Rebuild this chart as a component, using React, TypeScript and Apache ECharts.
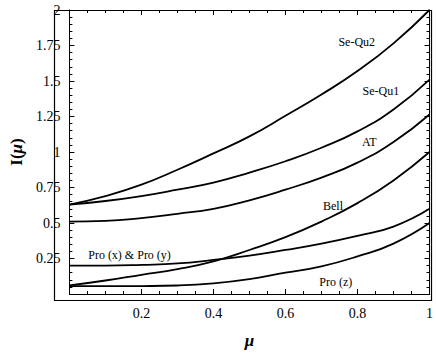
import React, { useEffect, useRef } from "react";
import * as echarts from "echarts";

const mu = [0, 0.1, 0.2, 0.3, 0.4, 0.5, 0.6, 0.7, 0.8, 0.9, 1.0];
const seQu2 = [0.63, 0.69, 0.77, 0.875, 0.99, 1.11, 1.255, 1.405, 1.57, 1.765, 2.0];
const seQu1 = [0.63, 0.655, 0.69, 0.735, 0.785, 0.855, 0.935, 1.03, 1.145, 1.3, 1.51];
const at = [0.51, 0.515, 0.535, 0.565, 0.6, 0.66, 0.735, 0.82, 0.925, 1.07, 1.264];
const bell = [0.06, 0.095, 0.135, 0.175, 0.23, 0.31, 0.4, 0.51, 0.64, 0.8, 1.0];
const proXY = [0.2, 0.2, 0.205, 0.215, 0.24, 0.27, 0.31, 0.355, 0.41, 0.475, 0.6];
const proZ = [0.055, 0.055, 0.056, 0.06, 0.075, 0.105, 0.15, 0.195, 0.265, 0.355, 0.5];

const seriesNames = ["Se-Qu2", "Se-Qu1", "AT", "Bell", "Pro (x) & Pro (y)", "Pro (z)"];
const seriesValues = [seQu2, seQu1, at, bell, proXY, proZ];
const labelPos: [number, number][] = [
  [0.798, 1.772],
  [0.865, 1.428],
  [0.833, 1.069],
  [0.732, 0.621],
  [0.167, 0.276],
  [0.74, 0.083],
];

const FONT = "Liberation Serif";
const GRID = { left: 54, top: 10, right: 5, bottom: 54 };
const W = 436;
const H = 354;

function axisLine() {
  return { show: true, onZero: false, lineStyle: { color: "#000", width: 1 } };
}
function axisTick() {
  return { show: true, inside: true, length: 5, lineStyle: { color: "#000", width: 1 } };
}
function minorTick(n: number) {
  return { show: true, splitNumber: n, length: 3, lineStyle: { color: "#000", width: 1 } };
}
function richText(size: number) {
  return { t: { fontFamily: FONT, fontSize: size, color: "#000" } };
}

export default function App() {
  const ref = useRef<HTMLDivElement>(null);
  useEffect(() => {
    if (!ref.current) return;
    const chart = echarts.init(ref.current, undefined, { renderer: "svg" });
    const lineSeries = seriesNames.map((name, i) => {
      const mirror = i === seriesNames.length - 1;
      return {
        name,
        type: "line",
        xAxisIndex: mirror ? 1 : 0,
        yAxisIndex: mirror ? 1 : 0,
        data: mu.map((m, j) => [m, seriesValues[i][j]]),
        showSymbol: false,
        smooth: 0.5,
        lineStyle: { color: "#000", width: 1.8 },
        markPoint: {
          symbol: "circle",
          symbolSize: 1,
          itemStyle: { color: "rgba(0,0,0,0)" },
          label: {
            show: true,
            position: "inside",
            formatter: "{t|" + name + "}",
            rich: richText(12),
          },
          data: [{ coord: labelPos[i] }],
        },
      };
    });
    chart.setOption({
      animation: false,
      backgroundColor: "#fff",
      grid: GRID,
      graphic: [
        {
          type: "rect",
          z: 100,
          silent: true,
          shape: {
            x: GRID.left + 0.5,
            y: GRID.top + 0.5,
            width: W - GRID.left - GRID.right,
            height: H - GRID.top - GRID.bottom,
          },
          style: { fill: "none", stroke: "#000", lineWidth: 1.2 },
        },
      ],
      xAxis: [
        {
          type: "value",
          min: 0,
          max: 1,
          interval: 0.2,
          axisLine: axisLine(),
          axisTick: axisTick(),
          minorTick: minorTick(4),
          splitLine: { show: false },
          axisLabel: {
            margin: 12,
            formatter: (v: number) => (v === 0 ? "" : "{t|" + Math.round(v * 10) / 10 + "}"),
            rich: richText(14),
          },
          name: "{i|μ}",
          nameLocation: "middle",
          nameGap: 38,
          nameTextStyle: {
            rich: { i: { fontFamily: FONT, fontSize: 17, fontStyle: "italic", fontWeight: "bold", color: "#000" } },
          },
        },
        {
          type: "value",
          position: "top",
          min: 0,
          max: 1,
          interval: 0.2,
          axisLine: axisLine(),
          axisTick: axisTick(),
          minorTick: minorTick(4),
          splitLine: { show: false },
          axisLabel: { show: false },
        },
      ],
      yAxis: [
        {
          type: "value",
          min: 0,
          max: 2,
          interval: 0.25,
          axisLine: axisLine(),
          axisTick: axisTick(),
          minorTick: minorTick(5),
          splitLine: { show: false },
          axisLabel: {
            margin: 9,
            formatter: (v: number) => (v === 0 ? "" : "{t|" + v + "}"),
            rich: richText(14),
          },
          name: "{b|I}{b|(}{i|μ}{b|)}",
          nameLocation: "middle",
          nameGap: 34,
          nameRotate: 90,
          nameTextStyle: {
            rich: {
              b: { fontFamily: FONT, fontSize: 17, fontWeight: "bold", color: "#000" },
              i: { fontFamily: FONT, fontSize: 17, fontStyle: "italic", fontWeight: "bold", color: "#000" },
            },
          },
        },
        {
          type: "value",
          position: "right",
          min: 0,
          max: 2,
          interval: 0.25,
          axisLine: axisLine(),
          axisTick: axisTick(),
          minorTick: minorTick(5),
          splitLine: { show: false },
          axisLabel: { show: false },
        },
      ],
      series: lineSeries,
    });
    return () => chart.dispose();
  }, []);
  return (
    <div
      ref={ref}
      style={{ position: "fixed", left: 0, top: 0, width: W, height: H, background: "#fff" }}
    />
  );
}
